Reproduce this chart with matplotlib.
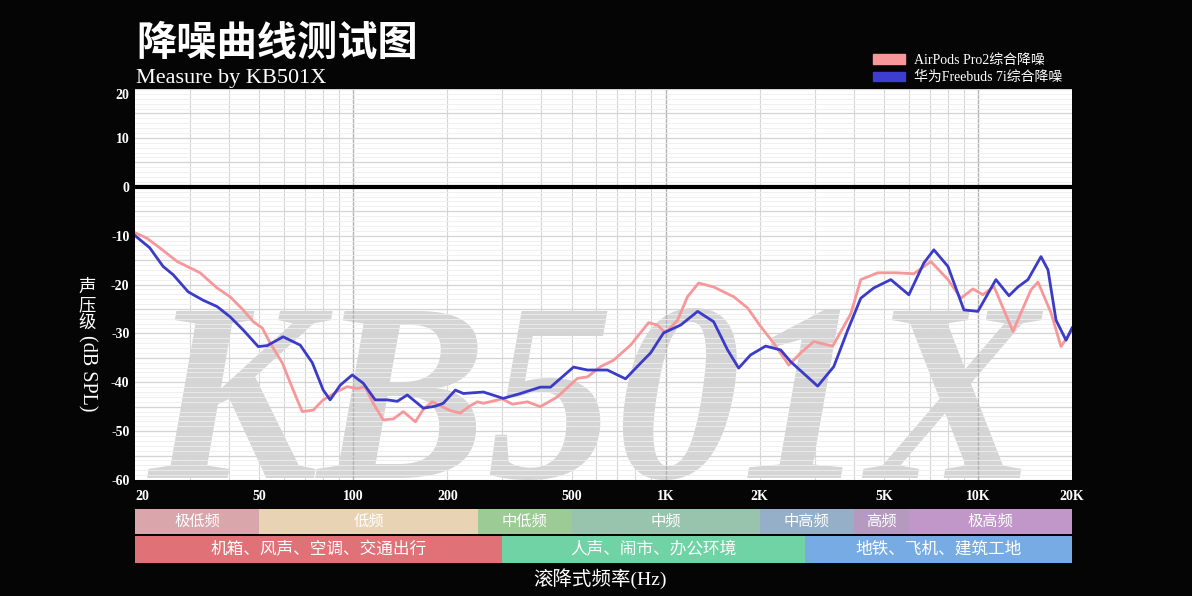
import matplotlib
matplotlib.use("Agg")
import matplotlib.pyplot as plt
from matplotlib.ticker import FixedLocator, NullFormatter
from matplotlib.patches import Patch

SERIF = ["Liberation Serif", "Noto Sans CJK SC"]
CJK = ["Noto Sans CJK SC", "DejaVu Sans"]

# AirPods Pro2 curve (Hz, dB)
airpods_freq = [20, 21.8, 24.0, 27.3, 32.3, 36.6, 40.3, 44.4, 47.8, 51.1,
                54.2, 59.2, 64.2, 68.6, 74.4, 80.1, 88.8, 95.6, 103, 109,
                115.8, 124.7, 134.3, 144.6, 158, 167.6, 179, 192.7, 204.5, 220,
                237, 249.6, 261, 300, 323, 361, 397, 450, 522, 562,
                619, 681, 772, 882, 942, 999, 1092, 1175, 1275, 1424,
                1651, 1830, 2015, 2218, 2478, 2707, 2979, 3428, 3915, 4215,
                4777, 5456, 6232, 7067, 8014, 8819, 9636, 10372, 11247, 12942,
                13728, 14780, 15566, 17136, 18441, 20000]
airpods_db = [-9.4, -10.5, -12.5, -15.3, -17.6, -20.7, -22.5, -25.2, -27.6, -28.9,
              -32, -36, -41.6, -46, -45.7, -43.6, -41.9, -40.9, -41.3, -40.9,
              -44.3, -47.7, -47.5, -46, -48.1, -45.5, -44, -45, -45.8, -46.3,
              -44.8, -44, -44.3, -43.4, -44.5, -44, -45, -43, -39.2, -38.9,
              -36.8, -35.5, -32.4, -27.8, -28.3, -29.9, -27.3, -22.5, -19.7, -20.5,
              -22.5, -24.8, -28.6, -32, -36.5, -34, -31.7, -32.6, -26, -19,
              -17.6, -17.6, -17.8, -15.3, -19, -22.8, -20.9, -22.1, -20.4, -29.6,
              -25.8, -21.1, -19.5, -25.8, -32.7, -29.3]

# Huawei Freebuds 7i curve (Hz, dB)
huawei_freq = [20, 22.3, 24.6, 26.5, 29.6, 33.0, 36.6, 40.3, 44.4, 49.6,
               53.0, 59.6, 67.6, 73.9, 80.1, 84.3, 90.8, 99.2, 107.6, 117.5,
               128.4, 138.3, 148.9, 167.6, 183, 194.1, 212.2, 225, 261, 302,
               343, 397, 428, 507, 562, 651, 744, 831, 895, 985,
               1117, 1266, 1424, 1579, 1713, 1871, 2090, 2335, 2514, 3068,
               3454, 3830, 4215, 4639, 5259, 6007, 6710, 7223, 8014, 9014,
               9993, 11414, 12567, 13427, 14456, 15911, 16756, 17779, 19140, 20000]
huawei_db = [-10, -12.5, -16.3, -18, -21.5, -23.2, -24.5, -26.6, -29.3, -32.7,
             -32.5, -30.7, -32.4, -36, -41.6, -43.6, -40.6, -38.5, -40.2, -43.6,
             -43.6, -43.9, -42.6, -45.3, -44.9, -44.3, -41.6, -42.3, -42, -43.3,
             -42.3, -41, -41, -36.9, -37.5, -37.5, -39.3, -36.1, -34, -29.9,
             -28.3, -25.5, -27.6, -33.4, -37.1, -34.4, -32.6, -33.4, -35.8, -40.8,
             -36.8, -29.3, -22.8, -20.7, -19, -22.1, -15.6, -12.9, -16.3, -25.2,
             -25.5, -19, -22.3, -20.5, -19, -14.3, -17, -27.3, -31.4, -28.9]

x_ticks = [20, 50, 100, 200, 500, 1000, 2000, 5000, 10000, 20000]
x_tick_labels = ["20", "50", "100", "200", "500", "1K", "2K", "5K", "10K", "20K"]
y_ticks = [20, 10, 0, -10, -20, -30, -40, -50, -60]

band_names = ["极低频", "低频", "中低频", "中频", "中高频", "高频", "极高频"]
band_edges = [20, 50, 250, 500, 2000, 4000, 6000, 20000]
band_colors = ["#d9a6ab", "#e8d4b4", "#9dcb96", "#98c4ad", "#95afc8", "#b49abf", "#c196c8"]

scene_names = ["机箱、风声、空调、交通出行", "人声、闹市、办公环境", "地铁、飞机、建筑工地"]
scene_edges = [20, 300, 2800, 20000]
scene_colors = ["#df7177", "#6fd3a5", "#77abe4"]

PINK = "#f7979a"
BLUE = "#3b3bc9"

W, H = 1192, 596
fig = plt.figure(figsize=(W / 100, H / 100), dpi=100, facecolor="#050505")

# main plot
ax = fig.add_axes([135 / W, 1 - 480 / H, 937 / W, 391 / H])
ax.set_facecolor("white")
ax.set_xscale("log")
ax.set_xlim(20, 20000)
ax.set_ylim(-60, 20)
for s in ax.spines.values():
    s.set_visible(False)

minor_x = [f * d for d in (10, 100, 1000) for f in range(2, 10) if f * d <= 20000]
minor_x = [m for m in minor_x if m > 20]
ax.xaxis.set_minor_locator(FixedLocator(minor_x))
ax.xaxis.set_minor_formatter(NullFormatter())
ax.set_xticks(x_ticks)
ax.set_xticklabels(x_tick_labels)
ax.set_yticks(y_ticks)
ax.set_yticklabels([str(v) for v in y_ticks])
ax.yaxis.set_minor_locator(FixedLocator(range(-60, 21)))

ax.grid(False)
for m in minor_x:
    ax.axvline(m, color="#d6d6d6", lw=0.8, zorder=2)
for m in (100, 1000, 10000):
    ax.axvline(m, color="#b3b3b3", lw=1.0, zorder=2)
for v in range(-60, 21):
    if v % 5 == 0:
        ax.axhline(v, color="#d4d4d4", lw=0.9, zorder=2)
    else:
        ax.axhline(v, color="#eeeeee", lw=0.6, zorder=2)
ax.axhline(0, color="black", lw=3.0, zorder=4)

ax.tick_params(axis="both", which="both", length=0, colors="white")
ax.tick_params(axis="x", pad=7)
ax.tick_params(axis="y", pad=4)
for lab in ax.get_xticklabels() + ax.get_yticklabels():
    lab.set_fontfamily(SERIF)
    lab.set_fontweight("bold")
    lab.set_fontsize(10)
ax.get_xticklabels()[0].set_ha("left")
ax.get_yticklabels()[0].set_va("top")

# watermark
ax.text(0.49, 0.005, "KB501X", transform=ax.transAxes, ha="center", va="baseline",
        fontsize=183, family=SERIF, style="italic", weight="bold",
        color="#d5d5d5", zorder=1, clip_on=True)

ax.plot(airpods_freq, airpods_db, color=PINK, lw=2.0, zorder=5, solid_joinstyle="round")
ax.plot(huawei_freq, huawei_db, color=BLUE, lw=2.0, zorder=6, solid_joinstyle="round")

# frequency band strips
bx = fig.add_axes([135 / W, 1 - 563 / H, 937 / W, 55 / H])
bx.set_xscale("log")
bx.set_xlim(20, 20000)
bx.set_ylim(0, 55)
bx.axis("off")
for i, name in enumerate(band_names):
    lo, hi = band_edges[i], band_edges[i + 1]
    bx.fill_between([lo, hi], 29.5, 54.5, color=band_colors[i], lw=0)
    bx.text((lo * hi) ** 0.5, 42, name, ha="center", va="center", color="white",
            fontsize=11, family=CJK)
for i, name in enumerate(scene_names):
    lo, hi = scene_edges[i], scene_edges[i + 1]
    bx.fill_between([lo, hi], 0, 27, color=scene_colors[i], lw=0)
    bx.text((lo * hi) ** 0.5, 13.5, name, ha="center", va="center", color="white",
            fontsize=12, family=CJK)

# titles and labels
fig.text(136 / W, 1 - 55 / H, "降噪曲线测试图", color="white", fontsize=29,
         family=CJK, weight="bold", ha="left", va="baseline")
fig.text(136 / W, 1 - 83 / H, "Measure by KB501X", color="white", fontsize=16,
         family=SERIF, ha="left", va="baseline")
fig.text(87 / W, 1 - 305 / H, "声\n压\n级", color="white", fontsize=12.5, family=CJK,
         ha="center", va="center", linespacing=1.0)
fig.text(87 / W, 1 - 373 / H, "(dB SPL)", color="white", fontsize=14.5, family=SERIF,
         ha="center", va="center", rotation=-90)
fig.text(600 / W, 1 - 579 / H, "滚降式频率(Hz)", color="white", fontsize=14,
         family=SERIF, ha="center", va="center")

handles = [Patch(facecolor=PINK, edgecolor=PINK, label="AirPods Pro2综合降噪"),
           Patch(facecolor="#3d3dd0", edgecolor="#3d3dd0", label="华为Freebuds 7i综合降噪")]
leg = fig.legend(handles=handles, loc="upper left", bbox_to_anchor=(873 / W, 1 - 54 / H),
                 frameon=False, handlelength=2.3, handleheight=0.65, handletextpad=0.65,
                 labelspacing=0.3, borderpad=0.0, borderaxespad=0.0,
                 prop={"family": SERIF, "size": 10})
for t in leg.get_texts():
    t.set_color("white")

fig.savefig("out.png", dpi=100, facecolor=fig.get_facecolor())
